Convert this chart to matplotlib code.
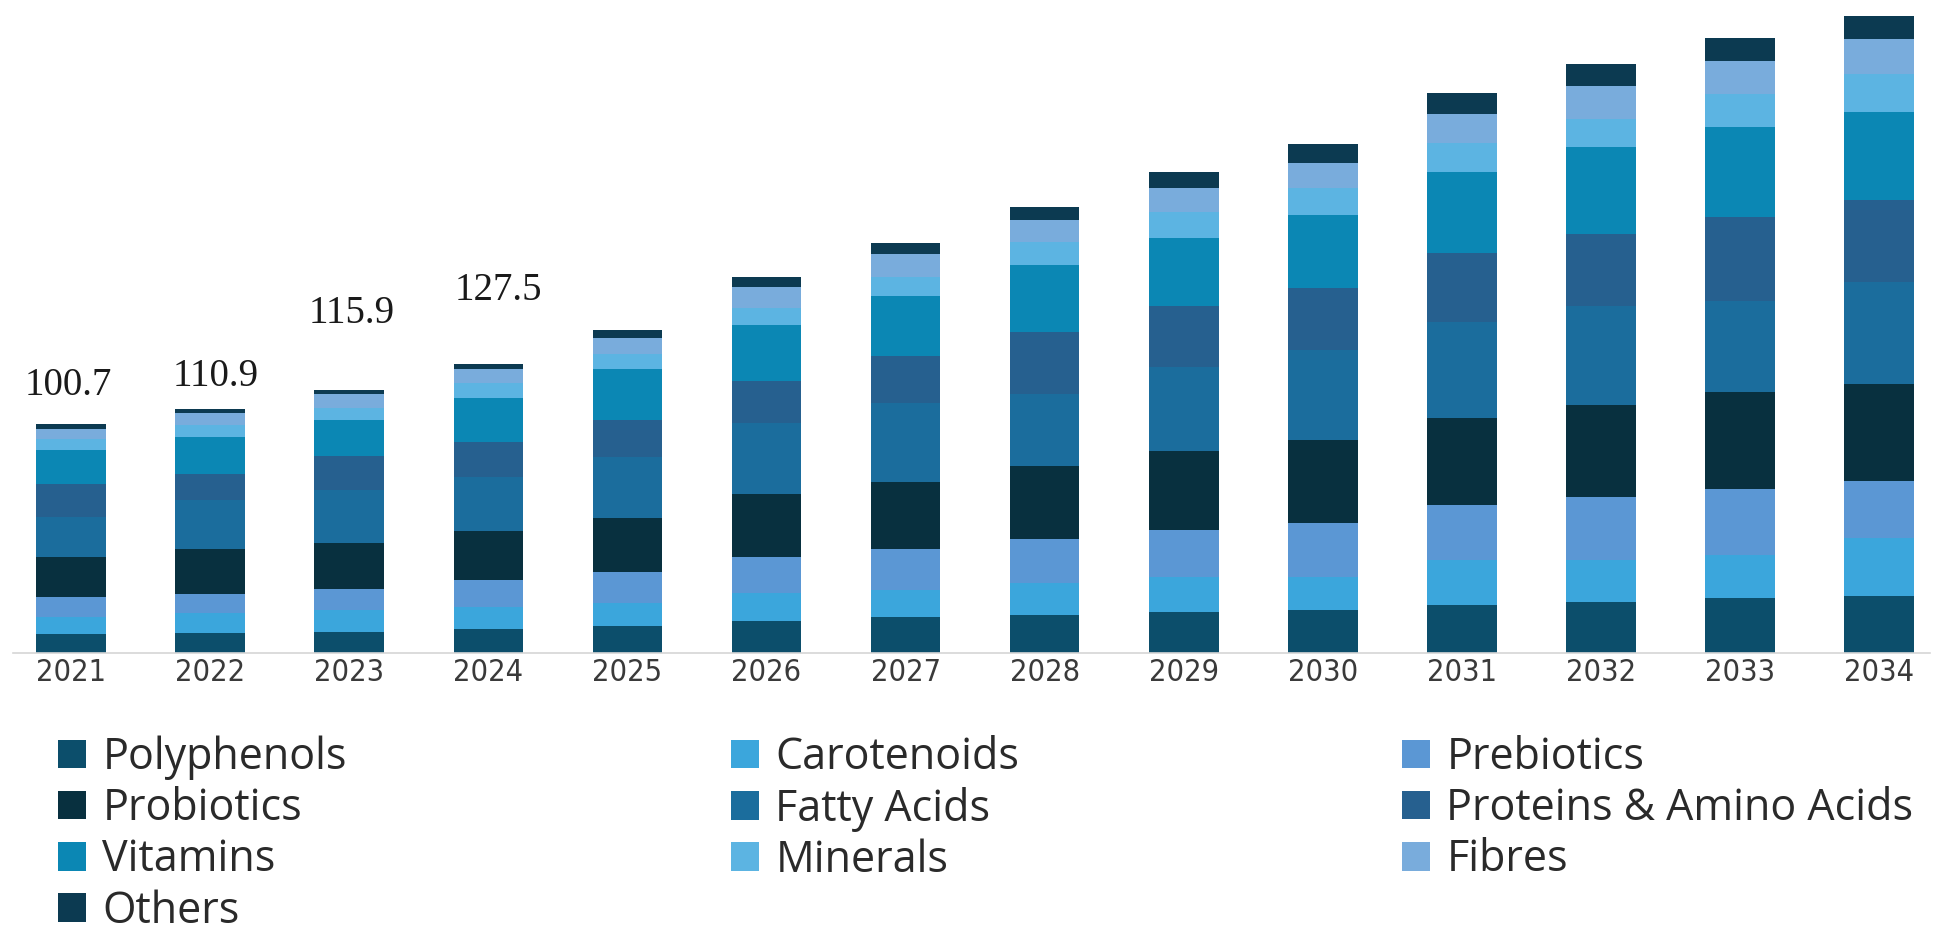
import numpy as np
import matplotlib
matplotlib.use("Agg")
import matplotlib.pyplot as plt
from matplotlib import font_manager
from matplotlib.font_manager import FontProperties
from matplotlib.patches import Patch

years = ["2021", "2022", "2023", "2024", "2025", "2026", "2027",
         "2028", "2029", "2030", "2031", "2032", "2033", "2034"]

polyphenols = [8.2, 8.5, 9.3, 10.3, 11.7, 14.1, 15.6, 16.4, 17.9, 18.6, 21.1, 22.4, 24.2, 25.0]
carotenoids = [7.6, 8.8, 9.5, 10.0, 10.0, 12.0, 12.0, 14.1, 15.6, 14.9, 19.9, 18.6, 18.6, 25.4]
prebiotics = [8.8, 8.5, 9.1, 11.7, 13.9, 16.2, 17.9, 19.4, 20.5, 23.8, 23.9, 27.4, 29.3, 25.4]
probiotics = [17.6, 19.7, 20.3, 21.6, 23.9, 27.6, 29.8, 32.3, 34.8, 36.5, 38.6, 40.6, 42.5, 42.3]
fatty_acids = [17.6, 21.7, 23.5, 23.9, 26.7, 31.1, 34.5, 31.7, 36.9, 39.4, 41.9, 43.8, 40.1, 45.2]
proteins = [14.7, 11.7, 14.7, 15.4, 16.2, 18.8, 20.9, 27.1, 26.8, 27.5, 30.8, 31.7, 37.3, 36.1]
vitamins = [14.7, 15.9, 16.2, 19.1, 22.3, 24.5, 26.4, 29.8, 30.1, 32.0, 35.4, 38.2, 39.5, 38.8]
minerals = [5.1, 5.4, 5.1, 6.6, 7.0, 7.3, 8.5, 10.1, 11.6, 11.9, 13.0, 12.1, 14.5, 16.4]
fibres = [4.3, 5.4, 6.2, 6.2, 7.0, 9.5, 10.0, 9.7, 10.4, 11.2, 12.5, 14.9, 14.5, 15.6]
others = [2.1, 1.9, 1.6, 2.3, 3.2, 4.4, 4.7, 5.5, 7.1, 8.2, 9.3, 9.7, 10.3, 10.2]

segments = ["Polyphenols", "Carotenoids", "Prebiotics", "Probiotics", "Fatty Acids",
            "Proteins & Amino Acids", "Vitamins", "Minerals", "Fibres", "Others"]
series = [polyphenols, carotenoids, prebiotics, probiotics, fatty_acids,
          proteins, vitamins, minerals, fibres, others]
colors = ["#0c4e6b", "#3ba6dc", "#5b97d4", "#08303f", "#1b6d9d",
          "#26608f", "#0b87b4", "#5cb4e2", "#79acdc", "#0c3a51"]

# totals written above the first four bars, and where they sit
label_x = [-0.02, 1.04, 2.015, 3.07]
label_texts = ["100.7", "110.9", "115.9", "127.5"]
label_y = [117.5, 121.5, 149.5, 159.3]

# a narrow sans for the year labels if one is installed
tick_prop = FontProperties(family="Open Sans", size=21)
for f in font_manager.fontManager.ttflist:
    if f.name in ("Liberation Sans Narrow", "DejaVu Sans") and \
            ("Narrow" in f.name or "Condensed" in f.fname) and \
            f.weight in (400, "normal") and f.style == "normal":
        tick_prop = FontProperties(fname=f.fname, size=22)
        break

fig = plt.figure(figsize=(19.37, 9.36), dpi=100)
ax = fig.add_axes([13 / 1937, 1 - 652.7 / 936, (1930 - 13) / 1937, 652.7 / 936])

x = np.arange(len(years))
bottom = np.zeros(len(years))
for name, vals, col in zip(segments, series, colors):
    ax.bar(x, vals, width=0.5, bottom=bottom, color=col, label=name, linewidth=0)
    bottom += np.array(vals)

for xx, txt, yy in zip(label_x, label_texts, label_y):
    ax.text(xx, yy, txt, ha="center", va="center", fontsize=28,
            family="Liberation Serif", color="#1a1a1a")

ax.set_xlim(-0.417, 13.365)
ax.set_ylim(0, 287.4)
ax.set_xticks(x)
ax.set_xticklabels(years, fontproperties=tick_prop, color="#3a3a3a")
ax.tick_params(axis="x", length=0, pad=4)
ax.set_yticks([])
for s in ["top", "left", "right"]:
    ax.spines[s].set_visible(False)
ax.spines["bottom"].set_color("#d6d6d6")
ax.spines["bottom"].set_linewidth(1.2)
ax.patch.set_alpha(0)

# legend in three columns, placed by hand
columns = [[0, 3, 6, 9], [1, 4, 7], [2, 5, 8]]
col_x = [58 / 1937, 731 / 1937, 1402 / 1937]
for cols, cx in zip(columns, col_x):
    handles = [Patch(facecolor=colors[k], edgecolor="none") for k in cols]
    labels = [segments[k] for k in cols]
    fig.legend(handles, labels, loc="upper left", bbox_to_anchor=(cx, 1 - 735.5 / 936),
               frameon=False, handlelength=0.65, handleheight=0.65, handletextpad=0.38,
               labelspacing=0.155, borderpad=0, borderaxespad=0,
               prop={"family": "Open Sans", "size": 31}, labelcolor="#2a2a2a")

fig.savefig("out.png", dpi=100)
